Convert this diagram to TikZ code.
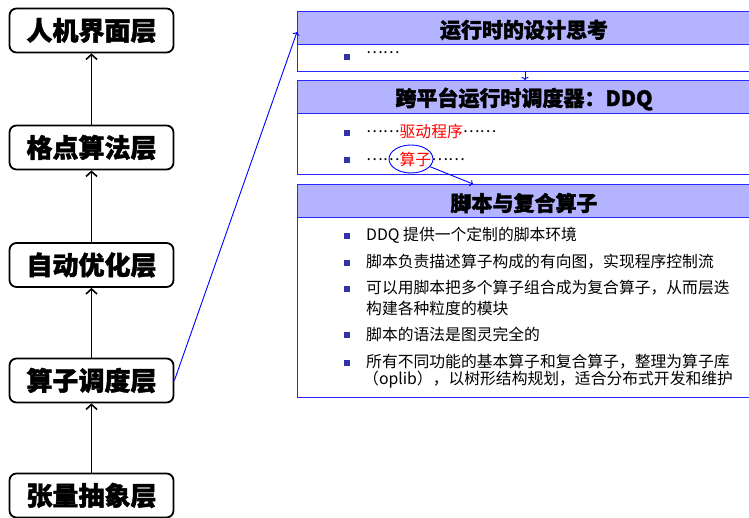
\documentclass[tikz,border=0pt]{standalone}
\usepackage{fontspec}
\setmainfont{Noto Sans CJK SC}
\newfontfamily\heavy[BoldFeatures={FakeBold=1.6}]{Noto Sans CJK SC}
\usetikzlibrary{shapes.geometric,arrows.meta}
\definecolor{hdrfill}{RGB}{179,179,255}
\definecolor{pblue}{RGB}{40,40,255}
\definecolor{bulletc}{RGB}{51,51,170}
\newcommand{\middots}{\raisebox{0.3em}{……}}
\begin{document}
\begin{tikzpicture}[x=1pt,y=-1pt,
 layer/.style={draw=black,line width=1.8pt,rounded corners=7pt,minimum width=164pt,minimum height=44pt,inner sep=0pt,font=\fontsize{26}{26}\selectfont\heavy\bfseries},
 uparrow/.style={-{Straight Barb[length=5pt,width=11pt,line width=1.6pt]},line width=1.8pt},
 panelbox/.style={draw=pblue,line width=1.2pt,inner sep=0pt,anchor=north west,minimum width=460pt},
 hdrbox/.style={panelbox,fill=hdrfill,minimum height=33pt},
 hdrtext/.style={font=\fontsize{21}{21}\selectfont\heavy\bfseries,inner sep=0pt},
 bodytext/.style={font=\fontsize{15.8}{15.8}\selectfont,anchor=west,inner sep=0pt},
 bulletbox/.style={fill=bulletc,minimum size=6pt,inner sep=0pt},
 bluearrow/.style={draw=blue,line width=0.9pt,-{To[length=3pt,width=7pt]}}]
\useasboundingbox (0,0) rectangle (749,518);

% left layer stack
\node[layer] (l1) at (91.5,30.5) {人机界面层};
\node[layer] (l2) at (91.5,147.5) {格点算法层};
\node[layer] (l3) at (91.5,265) {自动优化层};
\node[layer] (l4) at (91.5,380.5) {算子调度层};
\node[layer] (l5) at (91.5,495.5) {张量抽象层};
\draw[uparrow] (l5) -- (l4);
\draw[uparrow] (l4) -- (l3);
\draw[uparrow] (l3) -- (l2);
\draw[uparrow] (l2) -- (l1);

% panel 1
\node[panelbox,minimum height=60pt] (p1) at (297,11) {};
\node[hdrbox] (h1) at (297,11) {};
\node[hdrtext] (t1) at (524,30) {运行时的设计思考};
\node[bulletbox] (b11) at (347,57) {};
\node[bodytext] (x11) at (366,55) {\middots};

% panel 2
\node[panelbox,minimum height=94pt] (p2) at (297,80) {};
\node[hdrbox] (h2) at (297,80) {};
\node[hdrtext] (t2) at (524,99) {跨平台运行时调度器：DDQ};
\node[bulletbox] (b21) at (347,133) {};
\node[bodytext] (x21) at (366,131) {\middots{\color{red}驱动程序}\middots};
\node[bulletbox] (b22) at (347,160) {};
\node[bodytext] (x22) at (366,159) {\middots{\color{red}算子}\middots};
\node[draw=blue,line width=0.9pt,ellipse,minimum width=44pt,minimum height=28pt,inner sep=0pt] (ell) at (411,159) {};

% panel 3
\node[panelbox,minimum height=213pt] (p3) at (297,184) {};
\node[hdrbox] (h3) at (297,184) {};
\node[hdrtext] (t3) at (524,203) {脚本与复合算子};
\node[bulletbox] (b31) at (347,236) {};
\node[bodytext] (x31) at (366,235) {DDQ 提供一个定制的脚本环境};
\node[bulletbox] (b32) at (347,263) {};
\node[bodytext] (x32) at (366,262) {脚本负责描述算子构成的有向图，实现程序控制流};
\node[bulletbox] (b33) at (347,289) {};
\node[bodytext] (x33) at (366,288) {可以用脚本把多个算子组合成为复合算子，从而层迭};
\node[bodytext] (x33b) at (366,308) {构建各种粒度的模块};
\node[bulletbox] (b34) at (347,335) {};
\node[bodytext] (x34) at (366,334) {脚本的语法是图灵完全的};
\node[bulletbox] (b35) at (347,363) {};
\node[bodytext] (x35) at (366,362) {所有不同功能的基本算子和复合算子，整理为算子库};
\node[bodytext] (x35b) at (363,380) {（oplib），以树形结构规划，适合分布式开发和维护};

% blue connectors
\coordinate (c1) at (297,32);
\coordinate (c12a) at (525,71);
\coordinate (c12b) at (525,80);
\coordinate (c3) at (473,184);
\draw[bluearrow] (l4.east) -- (c1);
\draw[bluearrow] (c12a) -- (c12b);
\draw[bluearrow] (ell) -- (c3);
\end{tikzpicture}
\end{document}
